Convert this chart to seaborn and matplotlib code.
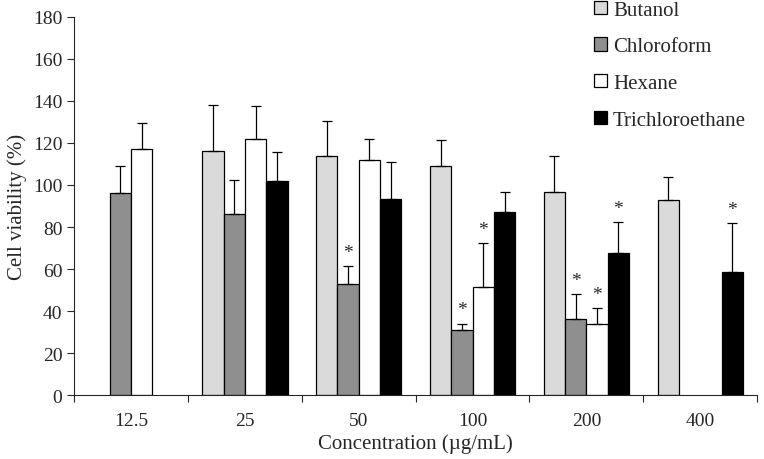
import pandas as pd
import numpy as np
import matplotlib
matplotlib.use("Agg")
import matplotlib.pyplot as plt
import seaborn as sns

concentrations = ["12.5", "25", "50", "100", "200", "400"]
solvents = ["Butanol", "Chloroform", "Hexane", "Trichloroethane"]

butanol = [np.nan, 116, 114, 109, 96.5, 93]
chloroform = [96, 86, 53, 31, 36, np.nan]
hexane = [117, 122, 112, 51.5, 34, np.nan]
trichloroethane = [np.nan, 102, 93.5, 87, 67.5, 58.5]

butanol_err = [np.nan, 22, 16.5, 12.5, 17.5, 11]
chloroform_err = [13, 16.5, 8.5, 3, 12, np.nan]
hexane_err = [12.5, 15.5, 10, 21, 7.5, np.nan]
trichloroethane_err = [np.nan, 13.5, 17.5, 9.5, 15, 23.5]

# significance marks (solvent, concentration)
stars = [("Chloroform", "50"), ("Chloroform", "100"), ("Hexane", "100"),
         ("Chloroform", "200"), ("Hexane", "200"), ("Trichloroethane", "200"),
         ("Trichloroethane", "400")]

colors = ["#dadada", "#8f8f8f", "#ffffff", "#000000"]

rows = []
for s, vals, errs in zip(solvents, [butanol, chloroform, hexane, trichloroethane],
                         [butanol_err, chloroform_err, hexane_err, trichloroethane_err]):
    for c, v, e in zip(concentrations, vals, errs):
        if not np.isnan(v):
            rows.append({"Concentration": c, "Solvent": s, "Viability": v, "Err": e})
df = pd.DataFrame(rows)

sns.set_style("ticks")
plt.rcParams["font.family"] = ["Liberation Serif", "DejaVu Serif"]

fig = plt.figure(figsize=(7.64, 4.6), dpi=100)
ax = fig.add_axes([0.097, 0.139, 0.894, 0.822])

sns.barplot(data=df, x="Concentration", y="Viability", hue="Solvent",
            order=concentrations, hue_order=solvents, palette=colors,
            errorbar=None, width=0.75, edgecolor="black", linewidth=0.9,
            saturation=1, ax=ax)

for cont, s in zip(ax.containers, solvents):
    for bar in cont:
        xc = bar.get_x() + bar.get_width() / 2
        h = bar.get_height()
        c = concentrations[int(round(xc))]
        row = df[(df.Solvent == s) & (df.Concentration == c)]
        if row.empty:
            continue
        e = row.Err.iloc[0]
        ax.errorbar(xc, h, yerr=[[0], [e]], fmt="none", ecolor="black",
                    elinewidth=0.9, capsize=3.5, capthick=0.9)
        if (s, c) in stars:
            ax.text(xc, h + e + 2.5, "*", ha="center", va="bottom", fontsize=14)

ax.set_ylim(0, 180)
ax.set_yticks(range(0, 181, 20))
ax.set_xlim(-0.5, len(concentrations) - 0.5)
ax.set_xticks(np.arange(-0.5, len(concentrations), 1.0))
ax.set_xticklabels([])
ax.set_xticks(range(len(concentrations)), concentrations, minor=True)
ax.tick_params(axis="x", which="minor", length=0, pad=12, labelsize=14)
ax.tick_params(axis="x", which="major", length=5, direction="out")
ax.tick_params(axis="y", length=5, labelsize=14)
ax.set_xlabel("Concentration (\u00b5g/mL)", fontsize=15, labelpad=3)
ax.set_ylabel("Cell viability (%)", fontsize=15, labelpad=4)
sns.despine(ax=ax)

ax.legend(loc="upper right", bbox_to_anchor=(0.996, 1.065), frameon=False,
          fontsize=15, handlelength=0.6, handleheight=0.6, handletextpad=0.3,
          labelspacing=0.85, borderaxespad=0)

fig.savefig("out.png", dpi=100)
